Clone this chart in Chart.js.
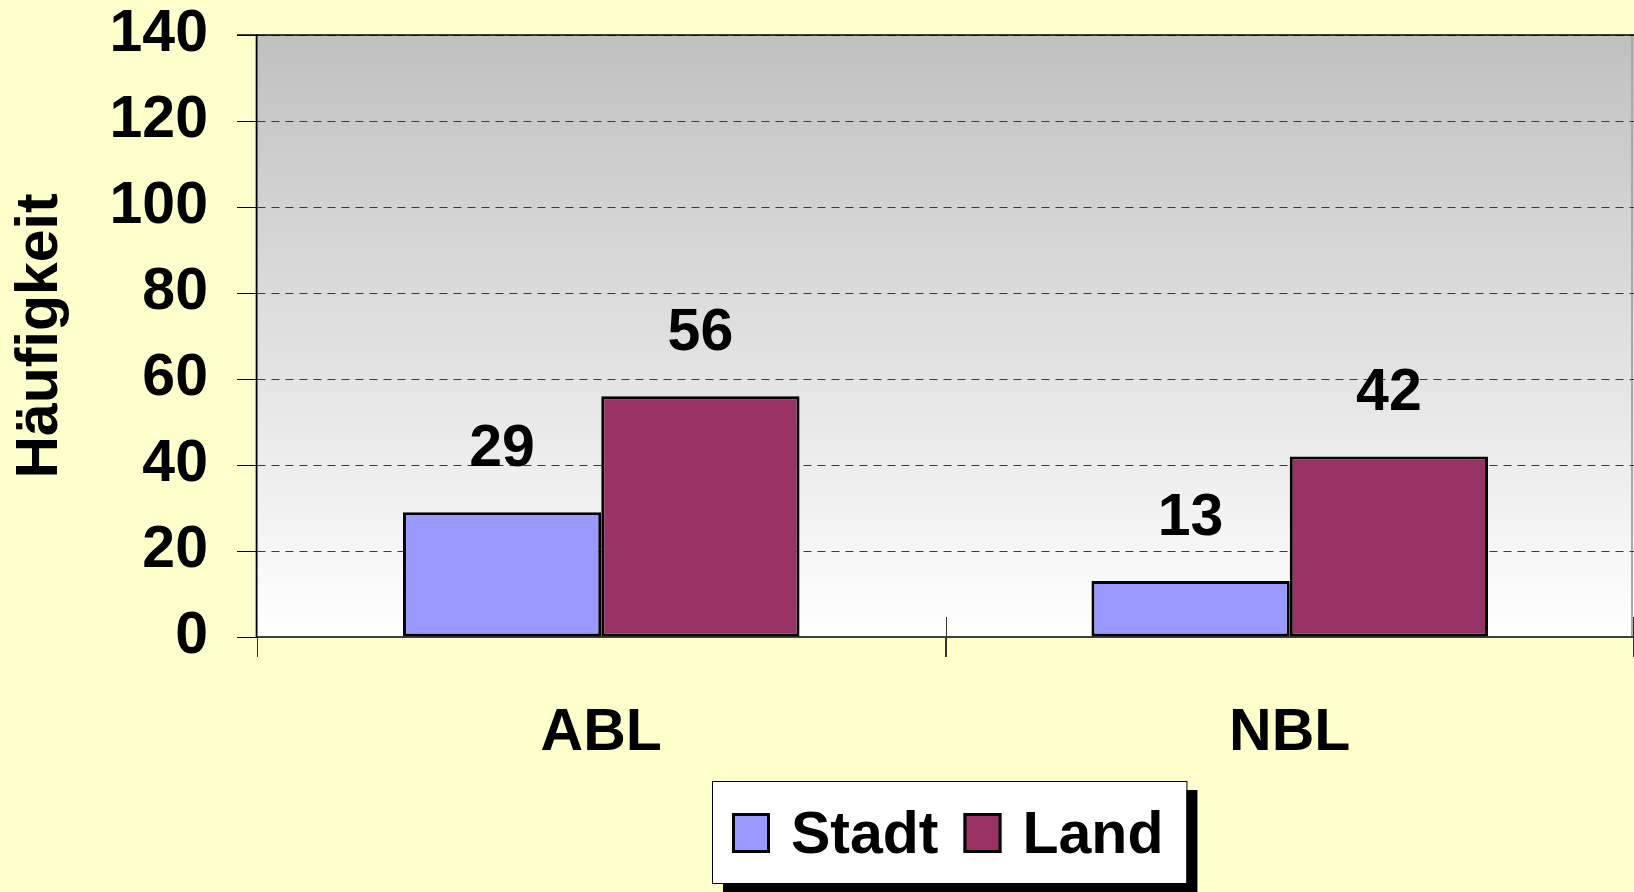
<!DOCTYPE html>
<html>
<head>
<meta charset="utf-8">
<script src="https://cdn.jsdelivr.net/npm/chart.js@4.4.1/dist/chart.umd.min.js"></script>
<style>
  html, body { margin: 0; padding: 0; background: #FFFFCC; }
  #wrap { width: 1634px; height: 892px; }
</style>
</head>
<body>
<div id="wrap"><canvas id="c" width="1634" height="892"></canvas></div>
<script>
const categories = ['ABL', 'NBL'];
const seriesNames = ['Stadt', 'Land'];
const stadtValues = [29, 13];
const landValues = [56, 42];
const yTicks = [0, 20, 40, 60, 80, 100, 120, 140];
const yTitle = 'Häufigkeit';

const FONT = '"Liberation Sans", Arial, Helvetica, sans-serif';
const FS = 59;
Chart.defaults.font.family = FONT;

const bgPlugin = {
  id: 'bg',
  beforeDraw(chart) {
    const {ctx, chartArea: a} = chart;
    ctx.save();
    ctx.fillStyle = '#FFFFCC';
    ctx.fillRect(0, 0, chart.width, chart.height);
    const g = ctx.createLinearGradient(0, a.top, 0, a.bottom);
    g.addColorStop(0, '#C0C0C0');
    g.addColorStop(1, '#FFFFFF');
    ctx.fillStyle = g;
    ctx.fillRect(a.left, a.top, a.right - a.left, a.bottom - a.top);
    ctx.fillStyle = '#A8A8A8';
    ctx.fillRect(a.left - 2, a.top, 2, a.bottom - a.top);
    ctx.fillRect(a.right - 3, a.top, 2, a.bottom - a.top);
    ctx.restore();
  },
  afterDraw(chart) {
    const {ctx, chartArea: a} = chart;
    const xs = chart.scales.x;
    ctx.save();
    // solid top frame line
    ctx.strokeStyle = '#000';
    ctx.lineWidth = 1.5;
    ctx.beginPath();
    ctx.moveTo(a.left - 20, a.top);
    ctx.lineTo(a.right, a.top);
    ctx.stroke();
    // crossing category tick marks
    ctx.strokeStyle = '#333';
    ctx.lineWidth = 1;
    const mids = [];
    for (let i = 0; i < categories.length - 1; i++) {
      mids.push((xs.getPixelForValue(i) + xs.getPixelForValue(i + 1)) / 2);
    }
    mids.push(a.right - 1);
    mids.forEach(m => {
      const px = Math.round(m) + 0.5;
      ctx.beginPath();
      ctx.moveTo(px, a.bottom - 20);
      ctx.lineTo(px, a.bottom + 20);
      ctx.stroke();
    });
    ctx.restore();

    // data labels
    ctx.save();
    ctx.font = 'bold ' + FS + 'px ' + FONT;
    ctx.fillStyle = '#000';
    ctx.textAlign = 'center';
    ctx.textBaseline = 'alphabetic';
    chart.data.datasets.forEach((ds, di) => {
      const meta = chart.getDatasetMeta(di);
      meta.data.forEach((el, i) => {
        ctx.fillText(String(ds.data[i]), el.x, el.y - 46);
      });
    });
    ctx.restore();

    // legend
    ctx.save();
    ctx.font = 'bold ' + FS + 'px ' + FONT;
    const padL = 20, padR = 23, mk = 38, mkH = 40, gapT = 21, gapI = 25;
    const widths = chart.data.datasets.map(d => ctx.measureText(d.label).width);
    let total = padL + padR;
    widths.forEach((w, i) => { total += mk + gapT + w + (i ? gapI : 0); });
    const boxH = 102;
    const cx = (a.left + a.right) / 2 + 4;
    const bx = Math.round(cx - total / 2);
    const by = a.bottom + 144;
    ctx.fillStyle = '#000';
    ctx.fillRect(bx + 11, by + 9, total, boxH);
    ctx.fillStyle = '#FFFFFF';
    ctx.fillRect(bx, by, total, boxH);
    ctx.strokeStyle = '#000';
    ctx.lineWidth = 1;
    ctx.strokeRect(bx + 0.5, by + 0.5, total, boxH);
    let x = bx + padL;
    const base = by + 72;
    chart.data.datasets.forEach((d, i) => {
      if (i) x += gapI;
      ctx.fillStyle = d.backgroundColor;
      ctx.fillRect(x, base - mkH, mk, mkH);
      ctx.strokeStyle = '#000';
      ctx.lineWidth = 3;
      ctx.strokeRect(x + 1.5, base - mkH + 1.5, mk - 3, mkH - 3);
      x += mk + gapT;
      ctx.fillStyle = '#000';
      ctx.textAlign = 'left';
      ctx.textBaseline = 'alphabetic';
      ctx.fillText(d.label, x, base);
      x += widths[i];
    });
    ctx.restore();
  }
};

new Chart(document.getElementById('c'), {
  type: 'bar',
  data: {
    labels: categories,
    datasets: [
      { label: seriesNames[0], data: stadtValues, backgroundColor: '#9999FF', borderColor: '#000', borderWidth: 3, borderSkipped: false },
      { label: seriesNames[1], data: landValues, backgroundColor: '#993366', borderColor: '#000', borderWidth: 3, borderSkipped: false }
    ]
  },
  options: {
    responsive: false,
    animation: false,
    events: [],
    layout: { padding: { top: 35, right: 0, left: 0, bottom: 0 } },
    categoryPercentage: 0.576,
    barPercentage: 1,
    plugins: { legend: { display: false }, tooltip: { enabled: false } },
    scales: {
      x: {
        offset: true,
        grid: { offset: true, drawOnChartArea: false, tickLength: 20, tickColor: '#333', lineWidth: 1 },
        border: { color: '#404040', width: 2 },
        ticks: { font: { size: FS, weight: 'bold' }, color: '#000', padding: 41, maxRotation: 0 },
        afterFit(s) { s.height = 892 - 637; s.paddingLeft = 0; s.paddingRight = 0; }
      },
      y: {
        min: 0, max: 140,
        afterBuildTicks(s) { s.ticks = yTicks.map(v => ({ value: v })); },
        grid: { color: '#3A3A3A', lineWidth: 1, tickLength: 20, tickColor: '#000', drawTicks: true },
        border: { color: '#000', width: 1.5, dash: [8, 6] },
        ticks: { font: { size: FS, weight: 'bold' }, color: '#000', padding: 29 },
        title: { display: true, text: yTitle, font: { size: FS, weight: 'bold' }, color: '#000', padding: { top: 5 } },
        afterFit(s) { s.width = 257; s.paddingTop = 0; s.paddingBottom = 0; }
      }
    }
  },
  plugins: [bgPlugin]
});
</script>
</body>
</html>
